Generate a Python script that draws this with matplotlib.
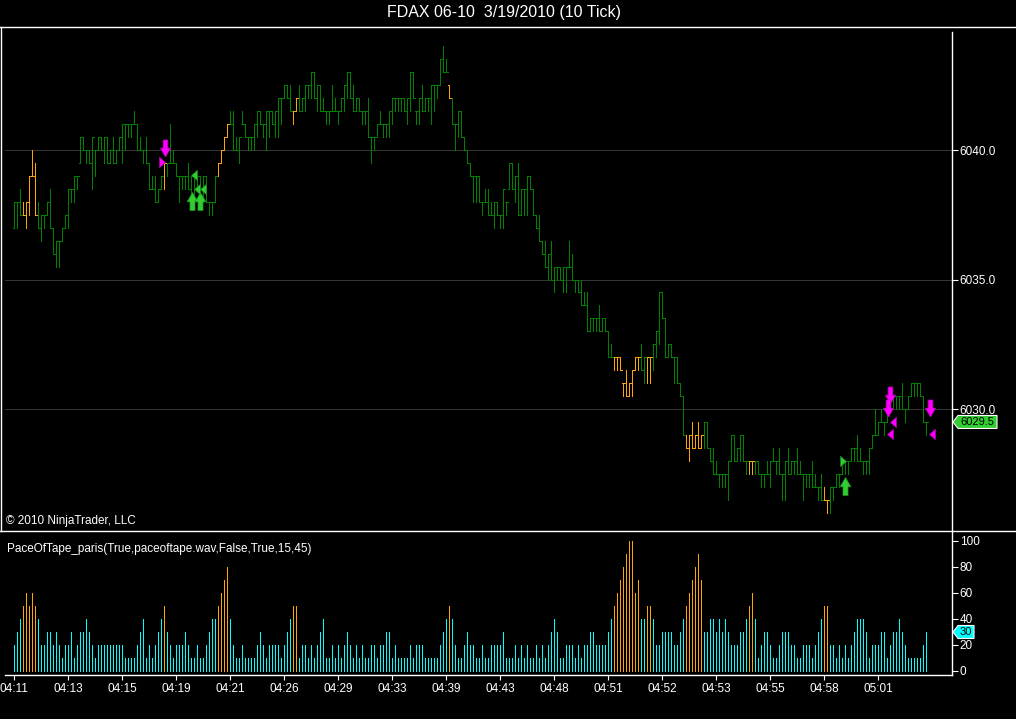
import numpy as np
import matplotlib.pyplot as plt
from matplotlib.patches import Polygon
from matplotlib.transforms import IdentityTransform

plt.rcParams['font.family'] = ['Liberation Sans', 'DejaVu Sans']

title = "FDAX 06-10  3/19/2010 (10 Tick)"
time_labels = ["04:11", "04:13", "04:15", "04:19", "04:21", "04:26", "04:29", "04:33", "04:39",
               "04:43", "04:48", "04:51", "04:52", "04:53", "04:55", "04:58", "05:01"]
label_every = 18
price_levels = [6030, 6035, 6040]

# 10 tick bars, low / high
bar_low = [
    6037, 6037, 6037.5, 6037.5, 6037, 6037.5, 6039, 6037.5, 6037, 6036.5,
    6037, 6037.5, 6037, 6036, 6035.5, 6035.5, 6036.5, 6037, 6037, 6038,
    6038, 6038.5, 6039.5, 6040, 6039.5, 6039.5, 6038.5, 6039, 6040, 6040,
    6039.5, 6039.5, 6039.5, 6039.5, 6039.5, 6040, 6039.5, 6040, 6040.5, 6040.5,
    6041, 6040, 6040, 6039.5, 6039.5, 6038.5, 6038.5, 6038, 6038, 6038.5,
    6038.5, 6039, 6039.5, 6039.5, 6039, 6038, 6038.5, 6038.5, 6038.5, 6038,
    6038, 6038.5, 6038.5, 6038, 6038, 6037.5, 6037.5, 6038, 6039, 6039.5,
    6040, 6040.5, 6041, 6040, 6040, 6039.5, 6041, 6040.5, 6040, 6040,
    6040, 6040.5, 6041, 6040.5, 6040, 6040.5, 6041, 6040.5, 6040.5, 6041,
    6042, 6042, 6041.5, 6041, 6041.5, 6041.5, 6041.5, 6041.5, 6042, 6042,
    6042, 6041.5, 6041.5, 6041.5, 6041, 6041, 6041.5, 6041.5, 6041, 6041.5,
    6041.5, 6042, 6042, 6041.5, 6041.5, 6041.5, 6041, 6041, 6040.5, 6039.5,
    6040, 6040.5, 6041, 6040.5, 6040.5, 6040.5, 6041, 6041.5, 6041.5, 6041.5,
    6041.5, 6041, 6041.5, 6042, 6041, 6041, 6041.5, 6041.5, 6041.5, 6041,
    6041.5, 6042, 6042.5, 6043, 6043, 6042, 6041, 6040, 6040.5, 6040.5,
    6040, 6039.5, 6039, 6038, 6038, 6038, 6037.5, 6038, 6037.5, 6037.5,
    6037, 6037.5, 6037, 6037, 6037.5, 6038.5, 6038.5, 6038, 6037.5, 6037.5,
    6037.5, 6037.5, 6038.5, 6037.5, 6037, 6036.5, 6036, 6035.5, 6035, 6035,
    6034.5, 6035, 6035, 6034.5, 6034.5, 6035.5, 6035, 6034.5, 6034.5, 6034,
    6034, 6033, 6033, 6033, 6033, 6033, 6033, 6033, 6032, 6032,
    6031.5, 6031.5, 6031.5, 6030.5, 6030.5, 6030.5, 6030.5, 6031.5, 6031.5, 6031.5,
    6031, 6031, 6031, 6031.5, 6032, 6032.5, 6033.5, 6032, 6032, 6032,
    6031, 6031, 6030.5, 6029, 6028.5, 6028, 6028.5, 6028.5, 6028.5, 6028.5,
    6028.5, 6028.5, 6028, 6027.5, 6027.5, 6027, 6027, 6027, 6026.5, 6028,
    6028, 6028, 6028, 6028, 6027.5, 6027.5, 6027.5, 6027.5, 6027.5, 6027,
    6027, 6027.5, 6027, 6028, 6027.5, 6027.5, 6026.5, 6026.5, 6027.5, 6027.5,
    6027.5, 6027.5, 6027.5, 6026.5, 6027, 6027, 6027, 6027, 6026.5, 6026.5,
    6026.5, 6026, 6026, 6026.5, 6027, 6027, 6027.5, 6027.5, 6027.5, 6028,
    6028, 6028, 6028, 6027.5, 6027.5, 6027.5, 6028.5, 6029, 6029, 6029.5,
    6029, 6029.5, 6030, 6030, 6030, 6030, 6030, 6029.5, 6030, 6030.5,
    6030.5, 6030.5, 6030.5, 6029.5, 6029,
]
bar_high = [
    6038, 6038, 6038.5, 6038, 6038, 6039, 6040, 6039.5, 6038, 6037.5,
    6037.5, 6038, 6038.5, 6037, 6036.5, 6036.5, 6037, 6037.5, 6038.5, 6038.5,
    6039, 6039, 6040.5, 6040.5, 6040, 6040, 6040.5, 6040, 6040.5, 6040.5,
    6040.5, 6040.5, 6040, 6040.5, 6040, 6040.5, 6041, 6041, 6041, 6041,
    6041.5, 6041, 6040.5, 6040, 6040.5, 6039.5, 6039, 6039, 6038.5, 6039,
    6039.5, 6039.5, 6041, 6040, 6039.5, 6039, 6039, 6039, 6039.5, 6039,
    6039, 6039, 6039, 6039, 6039, 6038, 6038, 6039, 6039.5, 6040,
    6040.5, 6041, 6041.5, 6041.5, 6040.5, 6040.5, 6041.5, 6041, 6040.5, 6040.5,
    6041, 6041.5, 6041.5, 6041, 6041.5, 6041.5, 6041.5, 6041.5, 6042, 6042,
    6042.5, 6042.5, 6042.5, 6041.5, 6042, 6042.5, 6042, 6042.5, 6042.5, 6043,
    6043, 6042.5, 6042.5, 6042, 6041.5, 6041.5, 6042.5, 6042, 6041.5, 6042,
    6042.5, 6043, 6043, 6042.5, 6042, 6042, 6041.5, 6041.5, 6042, 6040.5,
    6040.5, 6041, 6041.5, 6041, 6041, 6041.5, 6042, 6042, 6042, 6042,
    6042, 6042, 6043, 6043, 6041.5, 6042, 6042.5, 6042, 6042, 6042.5,
    6042.5, 6042.5, 6043.5, 6044, 6043.5, 6042.5, 6042, 6041, 6041.5, 6041.5,
    6040.5, 6040, 6039.5, 6039, 6039, 6039, 6038, 6038.5, 6038.5, 6038,
    6038, 6038, 6037.5, 6038.5, 6038, 6039.5, 6039.5, 6039, 6039.5, 6038.5,
    6038.5, 6039, 6039, 6038.5, 6037.5, 6037.5, 6036.5, 6036.5, 6036, 6036.5,
    6035.5, 6035.5, 6035.5, 6035.5, 6035.5, 6036.5, 6036, 6035, 6035, 6035,
    6034.5, 6034.5, 6033.5, 6033.5, 6033.5, 6034, 6033.5, 6033.5, 6033, 6032.5,
    6032, 6032, 6032, 6031, 6031.5, 6031, 6031.5, 6032, 6032, 6032.5,
    6032, 6032, 6032, 6032.5, 6033, 6034.5, 6034.5, 6033.5, 6032.5, 6032.5,
    6032, 6032, 6031, 6030.5, 6029, 6029, 6029.5, 6029, 6029.5, 6029,
    6029.5, 6029.5, 6028.5, 6028.5, 6028, 6027.5, 6027.5, 6027.5, 6028, 6029,
    6029, 6028.5, 6029, 6029, 6028, 6028, 6028, 6028, 6028, 6027.5,
    6027.5, 6028, 6028, 6028.5, 6028, 6028.5, 6027.5, 6028, 6028.5, 6028,
    6028, 6028.5, 6028, 6027.5, 6027.5, 6027.5, 6028, 6027.5, 6027, 6027.5,
    6027, 6026.5, 6027, 6027, 6027.5, 6027.5, 6028, 6028, 6028, 6028.5,
    6028.5, 6029, 6028.5, 6028, 6028, 6028.5, 6029, 6030, 6029.5, 6030,
    6029.5, 6030, 6030.5, 6030.5, 6030.5, 6030.5, 6031, 6030, 6030.5, 6031,
    6031, 6031, 6031, 6030.5, 6029.5,
]
last_price = 6029.5

# PaceOfTape indicator, one value per bar
pace = [
    20, 30, 40, 50, 60, 50, 60, 50, 40, 20,
    20, 30, 30, 20, 30, 20, 10, 20, 20, 30,
    10, 20, 30, 30, 40, 30, 20, 10, 20, 20,
    20, 20, 20, 20, 20, 20, 20, 10, 10, 10,
    10, 20, 30, 40, 10, 20, 10, 20, 30, 40,
    50, 30, 20, 10, 20, 20, 20, 30, 20, 10,
    10, 20, 10, 10, 20, 30, 40, 40, 50, 60,
    70, 80, 40, 20, 10, 10, 20, 10, 10, 10,
    10, 20, 30, 20, 10, 20, 20, 20, 20, 10,
    20, 30, 40, 50, 50, 10, 20, 20, 10, 20,
    10, 20, 30, 40, 10, 10, 20, 10, 20, 10,
    20, 30, 20, 10, 20, 10, 20, 10, 10, 20,
    20, 10, 20, 20, 30, 30, 10, 20, 10, 10,
    10, 10, 20, 10, 20, 20, 20, 10, 10, 10,
    10, 10, 20, 30, 40, 50, 40, 20, 10, 10,
    20, 30, 20, 20, 10, 10, 20, 10, 10, 20,
    20, 20, 20, 30, 10, 10, 10, 20, 10, 20,
    10, 20, 10, 10, 20, 10, 20, 10, 20, 30,
    40, 30, 10, 10, 20, 20, 20, 10, 20, 10,
    20, 20, 30, 30, 20, 20, 20, 20, 30, 40,
    50, 60, 70, 80, 90, 100, 100, 60, 70, 40,
    40, 50, 50, 40, 20, 20, 30, 30, 30, 30,
    20, 20, 30, 40, 50, 60, 70, 80, 90, 70,
    30, 30, 40, 40, 30, 40, 30, 40, 30, 20,
    20, 20, 30, 30, 40, 50, 60, 40, 10, 20,
    30, 30, 20, 10, 10, 20, 30, 30, 30, 20,
    20, 10, 10, 20, 20, 20, 10, 20, 30, 40,
    50, 50, 20, 20, 10, 20, 10, 20, 10, 20,
    30, 40, 40, 40, 30, 10, 20, 20, 20, 30,
    30, 10, 20, 30, 30, 40, 30, 20, 10, 10,
    10, 10, 10, 20, 30,
]
pace_threshold = 45
indicator_label = "PaceOfTape_paris(True,paceoftape.wav,False,True,15,45)"

# signal markers (bar position, price)
short_arrow_x = [50.1, 292.0, 291.1, 305.1]
short_arrow_y = [6040.06, 6030.56, 6030.05, 6030.05]
short_entry_x = [49.1]
short_entry_y = [6039.52]
short_exit_x = [293.0, 291.9, 306.0]
short_exit_y = [6029.51, 6029.03, 6029.03]
long_arrow_x = [59.3, 61.9, 277.0]
long_arrow_y = [6038.02, 6038.02, 6027.02]
long_exit_x = [60.0, 60.9, 62.8]
long_exit_y = [6039.02, 6038.51, 6038.51]
long_entry_x = [276.1]
long_entry_y = [6028.01]

GREEN = '#008000'
ORANGE = '#FFA500'
CYAN = '#00FFFF'
MAGENTA = '#FF00FF'
LIME = '#32CD32'
PX = 0.72  # one pixel in points

W, H = 1016, 719
fig = plt.figure(figsize=(W / 100, H / 100), dpi=100, facecolor='black')


def px_rect(x0, y0, x1, y1):
    return [x0 / W, 1 - y1 / H, (x1 - x0) / W, (y1 - y0) / H]


ax1 = fig.add_axes(px_rect(1, 32, 952, 531))
ax2 = fig.add_axes(px_rect(1, 531, 952, 675), sharex=ax1)
for ax in (ax1, ax2):
    ax.set_facecolor('black')
    for s in ax.spines.values():
        s.set_visible(False)
    ax.spines['right'].set_visible(True)
    ax.spines['right'].set_color('white')
    ax.spines['right'].set_linewidth(1.0)
ax2.spines['bottom'].set_visible(True)
ax2.spines['bottom'].set_color('white')
ax2.spines['bottom'].set_linewidth(1.0)

n = len(bar_low)
idx = np.arange(n)
low = np.array(bar_low)
high = np.array(bar_high)
pace_arr = np.array(pace)
fast = pace_arr > pace_threshold

# close at the side of the range facing the next bar, open at previous close
mid = (low + high) / 2
close = np.where(np.append(mid[1:], last_price) >= mid, high, low)
close[-1] = last_price
opn = np.clip(np.insert(close[:-1], 0, low[0]), low, high)

bar_cols = [ORANGE if f else GREEN for f in fast]
ax1.vlines(idx, low, high, colors=bar_cols, lw=PX, antialiased=False, zorder=3)
ax1.hlines(opn, idx - 0.4, idx, colors=bar_cols, lw=PX, antialiased=False, zorder=3)
ax1.hlines(close, idx, idx + 0.4, colors=bar_cols, lw=PX, antialiased=False, zorder=3)

# signal shapes
down_arrow = [(-0.14, 0.5), (0.14, 0.5), (0.14, 0.02), (0.3, 0.02), (0, -0.5),
              (-0.3, 0.02), (-0.14, 0.02), (-0.14, 0.5)]
up_arrow = [(x, -y) for x, y in down_arrow]
right_tri = [(-0.28, 0.5), (0.28, 0.0), (-0.28, -0.5), (-0.28, 0.5)]
left_tri = [(-x, y) for x, y in right_tri]

ax1.scatter(short_arrow_x, short_arrow_y, marker=down_arrow, s=150, c=MAGENTA,
            edgecolors='#B000B0', linewidths=0.5, zorder=5)
ax1.scatter(short_entry_x, short_entry_y, marker=right_tri, s=55, c=MAGENTA,
            edgecolors='#B000B0', linewidths=0.5, zorder=5)
ax1.scatter(short_exit_x, short_exit_y, marker=left_tri, s=55, c=MAGENTA,
            edgecolors='#B000B0', linewidths=0.5, zorder=5)
ax1.scatter(long_arrow_x, long_arrow_y, marker=up_arrow, s=170, c=LIME,
            edgecolors='#1E8C1E', linewidths=0.5, zorder=5)
ax1.scatter(long_exit_x, long_exit_y, marker=left_tri, s=55, c=LIME,
            edgecolors='#1E8C1E', linewidths=0.5, zorder=5)
ax1.scatter(long_entry_x, long_entry_y, marker=right_tri, s=55, c=LIME,
            edgecolors='#1E8C1E', linewidths=0.5, zorder=5)

ax1.set_xlim(-4.44, 312.56)
ax1.set_ylim(6025.29, 6044.556)
ax1.set_yticks(price_levels)
ax1.set_yticklabels([f"{v:.1f}" for v in price_levels])
for lvl in price_levels:
    ax1.axhline(lvl, xmin=4 / 951, color='#353535', lw=PX, zorder=1)
ax1.tick_params(axis='y', left=False, right=True, labelleft=False, labelright=True,
                colors='white', length=4.3, width=0.8, labelsize=8.5, pad=1.2)
ax1.tick_params(axis='x', bottom=False, labelbottom=False)

# pace of tape histogram
hist_cols = [ORANGE if f else CYAN for f in fast]
ax2.vlines(idx, 0, pace_arr, colors=hist_cols, lw=PX, antialiased=False)
ax2.set_ylim(-3.08, 107.69)
ax2.set_yticks(np.arange(0, 101, 20))
ax2.tick_params(axis='y', left=False, right=True, labelleft=False, labelright=True,
                colors='white', length=4.3, width=0.8, labelsize=8.5, pad=1.2)
ax2.set_xticks(np.arange(len(time_labels)) * label_every)
ax2.set_xticklabels(time_labels)
ax2.tick_params(axis='x', colors='white', length=3.6, width=0.8, labelsize=8.5, pad=2)
ax2.spines['bottom'].set_bounds(-3.1, 312.56)


def value_tag(ax, value, text, face, width):
    x0 = ax.transAxes.transform((1, 0))[0]
    yc = ax.transData.transform((0, value))[1]
    h = 6.5
    pts = [(x0 + 1, yc), (x0 + 6, yc + h), (x0 + width, yc + h),
           (x0 + width, yc - h), (x0 + 6, yc - h)]
    fig.add_artist(Polygon(pts, closed=True, transform=IdentityTransform(),
                           facecolor=face, edgecolor='white', lw=0.8, zorder=10))
    fig.text((x0 + 8) / W, yc / H, text, color='black', fontsize=8,
             va='center', ha='left', zorder=11)


value_tag(ax1, last_price, f"{last_price:.1f}", LIME, 45)
value_tag(ax2, pace[-1], str(pace[-1]), CYAN, 22)

# frame lines and texts
fig.add_artist(plt.Line2D([0, 1], [1 - 27 / H, 1 - 27 / H], color='white', lw=1.0))
fig.add_artist(plt.Line2D([0, 1], [1 - 531 / H, 1 - 531 / H], color='white', lw=1.0))
fig.add_artist(plt.Line2D([1 / W, 1 / W], [1 - 531 / H, 1 - 27 / H], color='white', lw=1.0))
fig.text(504 / W, 1 - 12 / H, title, color='white', fontsize=11.5, ha='center', va='center')
fig.text(6 / W, 1 - 521 / H, "\u00a9 2010 NinjaTrader, LLC", color='white', fontsize=8.5,
         ha='left', va='center')
fig.text(7 / W, 1 - 549 / H, indicator_label, color='white', fontsize=8.5,
         ha='left', va='center')

fig.savefig('out.png', dpi=100, facecolor='black')
